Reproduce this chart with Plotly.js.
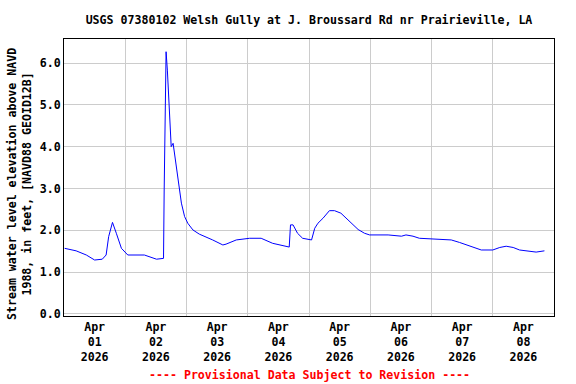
<!DOCTYPE html>
<html>
<head>
<meta charset="utf-8">
<script src="https://cdn.plot.ly/plotly-3.0.1.min.js"></script>
<style>html,body{margin:0;padding:0;background:#fff;}#chart{width:576px;height:384px;}</style>
</head>
<body>
<div id="chart"></div>
<script>
const titleText = "USGS 07380102 Welsh Gully at J. Broussard Rd nr Prairieville, LA";
const yTitle = "Stream water level elevation above NAVD<br>1988, in feet, [NAVD88 GEOID12B]";
const footer = "---- Provisional Data Subject to Revision ----";

const times = [
  "2026-04-01 00:15","2026-04-01 04:45","2026-04-01 08:45","2026-04-01 12:00","2026-04-01 15:00",
  "2026-04-01 16:30","2026-04-01 17:30","2026-04-01 19:00","2026-04-01 20:30","2026-04-01 22:30",
  "2026-04-02 01:00","2026-04-02 07:30","2026-04-02 12:15","2026-04-02 15:00","2026-04-02 15:15",
  "2026-04-02 15:45","2026-04-02 16:00","2026-04-02 16:30","2026-04-02 17:30","2026-04-02 17:45",
  "2026-04-02 18:00","2026-04-02 18:45","2026-04-02 19:15","2026-04-02 20:00","2026-04-02 21:00",
  "2026-04-02 22:00","2026-04-02 23:15","2026-04-03 00:30","2026-04-03 02:30","2026-04-03 05:00",
  "2026-04-03 10:15","2026-04-03 14:15","2026-04-03 15:30","2026-04-03 19:30","2026-04-04 00:45",
  "2026-04-04 05:15","2026-04-04 09:45","2026-04-04 13:45","2026-04-04 15:45","2026-04-04 16:15",
  "2026-04-04 16:45","2026-04-04 17:45","2026-04-04 19:30","2026-04-04 21:30","2026-04-05 01:00",
  "2026-04-05 02:15","2026-04-05 03:30","2026-04-05 05:30","2026-04-05 08:00","2026-04-05 10:00",
  "2026-04-05 12:30","2026-04-05 16:00","2026-04-05 19:15","2026-04-05 21:45","2026-04-05 23:45",
  "2026-04-06 07:00","2026-04-06 12:15","2026-04-06 14:00","2026-04-06 16:45","2026-04-06 19:15",
  "2026-04-07 02:00","2026-04-07 07:45","2026-04-07 11:00","2026-04-07 15:00","2026-04-07 19:30",
  "2026-04-08 00:00","2026-04-08 02:45","2026-04-08 05:15","2026-04-08 08:00","2026-04-08 10:30",
  "2026-04-08 14:30","2026-04-08 17:00","2026-04-08 20:15"
];
const levels = [
  1.57,1.51,1.41,1.29,1.31,
  1.41,1.85,2.19,1.93,1.57,
  1.41,1.41,1.31,1.33,2.94,
  6.27,6.27,5.83,4.80,4.48,
  4.00,4.08,3.84,3.48,3.12,
  2.65,2.33,2.17,2.01,1.91,
  1.77,1.65,1.67,1.77,1.81,
  1.81,1.69,1.63,1.61,1.60,
  2.13,2.13,1.93,1.81,1.77,
  2.05,2.17,2.29,2.47,2.47,
  2.41,2.21,2.02,1.93,1.89,
  1.89,1.86,1.89,1.86,1.81,
  1.79,1.77,1.71,1.63,1.53,
  1.53,1.59,1.62,1.59,1.53,
  1.51,1.48,1.51
];

const fnt = {family: "DejaVu Sans Mono", size: 11.6, weight: "bold", color: "#000"};

Plotly.newPlot("chart", [{
  x: times, y: levels, type: "scatter", mode: "lines",
  line: {color: "#0000ff", width: 1}, hoverinfo: "skip"
}], {
  width: 576, height: 384,
  margin: {l: 64, r: 22, t: 39, b: 68},
  paper_bgcolor: "#fff", plot_bgcolor: "#fff",
  showlegend: false,
  font: fnt,
  title: {text: titleText, font: fnt, x: 0.5, xref: "paper", y: 1 - 20/384, yanchor: "middle"},
  xaxis: {
    type: "date", range: ["2026-04-01 00:00", "2026-04-09 00:00"],
    tick0: "2026-04-01", dtick: 86400000, ticklabelmode: "period",
    tickformat: "%b<br>%d<br>%Y", ticks: "", tickfont: fnt,
    showgrid: true, gridcolor: "#cccccc", gridwidth: 1,
    showline: true, linecolor: "#000", linewidth: 1, mirror: true,
    zeroline: false, fixedrange: true
  },
  yaxis: {
    range: [-0.048, 6.574], tick0: 0, dtick: 1, tickformat: ".1f",
    ticks: "", tickfont: fnt,
    showgrid: true, gridcolor: "#cccccc", gridwidth: 1,
    showline: true, linecolor: "#000", linewidth: 1, mirror: true,
    zeroline: false, fixedrange: true
  },
  annotations: [{
    text: yTitle, xref: "paper", yref: "paper", x: (19 - 64) / 490, y: (316 - 184) / 277,
    textangle: -90, showarrow: false, xanchor: "center", yanchor: "middle", font: fnt
  }, {
    text: footer, xref: "paper", yref: "paper", x: 0.5, y: -0.213,
    showarrow: false, xanchor: "center", yanchor: "middle",
    font: Object.assign({}, fnt, {color: "#ff0000"})
  }]
}, {displayModeBar: false, staticPlot: true});
</script>
</body>
</html>
